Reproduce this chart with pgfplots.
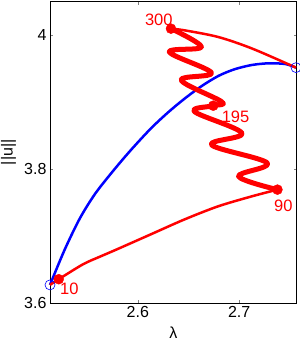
\documentclass[border=0pt]{standalone}
\usepackage{fontspec}
\setmainfont{Liberation Sans}
\usepackage{pgfplots}
\pgfplotsset{compat=1.18}
\begin{document}
\begin{tikzpicture}
\path[use as bounding box] (-50pt,-38pt) rectangle (250pt,303pt);
\begin{axis}[
  at={(0pt,0pt)}, anchor=south west,
  scale only axis, width=246.5pt, height=301.5pt,
  xmin=2.5134, xmax=2.7565, ymin=3.6, ymax=4.05,
  xtick={2.6,2.7}, ytick={3.6,3.8,4},
  tick align=inside, major tick length=3pt,
  font=\fontsize{16}{19}\selectfont,
  /pgf/number format/assume math mode=true,
  xlabel={λ}, ylabel={||u||},
  xlabel style={at={(axis description cs:0.5,-0.0995)}, anchor=center},
  ylabel style={at={(axis description cs:-0.1684,0.5)}, anchor=center},
  axis line style={line width=0.6pt},
  clip=false,
]
% blue branch
\addplot[blue, line width=2.5pt, smooth, tension=0.5] coordinates {
(2.5134,3.6270) (2.5277,3.6790) (2.5427,3.7259) (2.5577,3.7626) (2.5747,3.7954)
(2.5927,3.8275) (2.6127,3.8602) (2.6297,3.8843) (2.6457,3.9045) (2.6627,3.9235)
(2.6797,3.9391) (2.6957,3.9490) (2.7127,3.9553) (2.7297,3.9578) (2.7457,3.9566) (2.7560,3.9513)
};
% thin red lower
\addplot[red, line width=2.5pt, smooth, tension=0.5] coordinates {
(2.5134,3.627) (2.522,3.6355) (2.546,3.6578) (2.5627,3.6692) (2.5794,3.6801)
(2.6127,3.7024) (2.646,3.7247) (2.6794,3.7444) (2.7127,3.7593) (2.7377,3.7692)
};
% thin red upper
\addplot[red, line width=2.5pt, smooth, tension=0.5] coordinates {
(2.6327,4.0095) (2.646,4.007) (2.6794,3.997) (2.7127,3.9798) (2.7560,3.9513)
};
% thick red wiggle
\addplot[red, line width=5pt, smooth, tension=0.6, line join=round, line cap=round] coordinates {
(2.6327,4.0095) (2.6627,3.9822) (2.6310,3.9747) (2.6727,3.9435) (2.6427,3.9327)
(2.6827,3.9004) (2.6744,3.8945) (2.6560,3.8856) (2.7027,3.8535) (2.6727,3.8361)
(2.7277,3.8089) (2.6994,3.7890) (2.7377,3.7692)
};
% blue open circles
\addplot[blue, only marks, mark=o, mark size=5pt, line width=0.6pt] coordinates {
(2.5134,3.627) (2.7560,3.9513)
};
% red dots
\addplot[red, only marks, mark=*, mark size=5pt] coordinates {
(2.6327,4.0095) (2.6744,3.8945) (2.7377,3.7692) (2.522,3.6355)
};
\node[red, font=\fontsize{16.5}{19}\selectfont] at (axis cs:2.6207,4.0226) {300};
\node[red, font=\fontsize{16.5}{19}\selectfont] at (axis cs:2.6964,3.8777) {195};
\node[red, font=\fontsize{16.5}{19}\selectfont] at (axis cs:2.7435,3.7444) {90};
\node[red, font=\fontsize{16.5}{19}\selectfont] at (axis cs:2.5324,3.6218) {10};
\end{axis}
\end{tikzpicture}
\end{document}
